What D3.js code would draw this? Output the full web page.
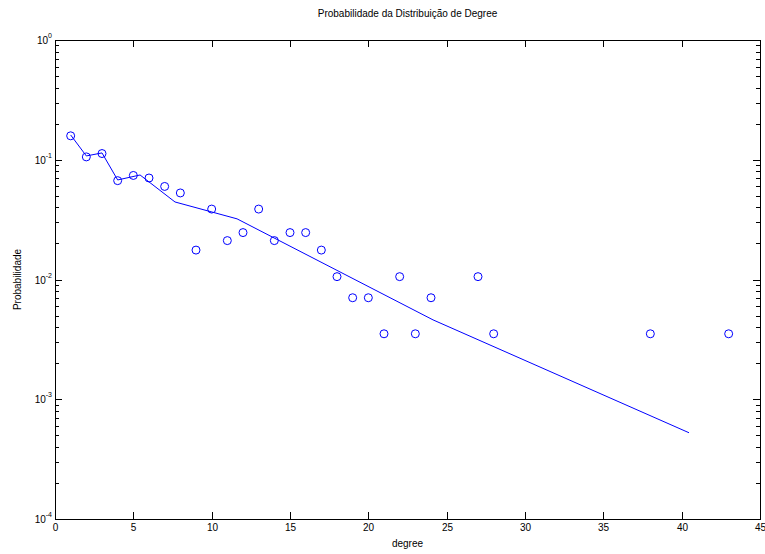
<!DOCTYPE html>
<html><head><meta charset="utf-8">
<script src="https://cdn.jsdelivr.net/npm/d3@7"></script>
<style>body{margin:0;background:#fff}svg{display:block}text{font-family:"Liberation Sans",Arial,sans-serif;fill:#000}</style>
</head><body><svg id="c" width="765" height="554"></svg>
<script>
const degrees = [1,2,3,4,5,6,7,8,9,10,11,12,13,14,15,16,17,18,19,20,21,22,23,24,27,28,38,43];
const counts  = [45,30,32,19,21,20,17,15,5,11,6,7,11,6,7,7,5,3,2,2,1,3,1,2,3,1,1,1];
const total = 284;
const probs = counts.map(c => c/total);
const fitX = [1,2,3,4,5.43,7.66,11.62,24.13,40.47];
const fitY = [0.161,0.1076,0.114,0.0678,0.0746,0.0444,0.0321,0.0046,0.000525];
const xTicks = [0,5,10,15,20,25,30,35,40,45];
const yExps = [0,-1,-2,-3,-4];

const svg = d3.select("#c");
const L=55,T=40,R=760,B=519;
const x = d3.scaleLinear().domain([0,45]).range([L,R]);
const y = d3.scaleLog().domain([1e-4,1]).range([B,T]);

svg.append("rect").attr("x",L+0.5).attr("y",T+0.5).attr("width",R-L).attr("height",B-T)
  .attr("fill","none").attr("stroke","#000").attr("stroke-width",1);

const g = svg.append("g").attr("stroke","#000").attr("stroke-width",1);
xTicks.forEach(v=>{
  const px=Math.round(x(v))+0.5;
  g.append("line").attr("x1",px).attr("x2",px).attr("y1",B).attr("y2",B-7);
  g.append("line").attr("x1",px).attr("x2",px).attr("y1",T).attr("y2",T+7);
  svg.append("text").attr("x",px).attr("y",B+12).attr("text-anchor","middle").attr("font-size",10).text(v);
});
yExps.forEach(e=>{
  const py=Math.round(y(Math.pow(10,e)))+0.5;
  g.append("line").attr("x1",L).attr("x2",L+7).attr("y1",py).attr("y2",py);
  g.append("line").attr("x1",R).attr("x2",R-7).attr("y1",py).attr("y2",py);
  const t=svg.append("text").attr("x",52).attr("y",py+3).attr("text-anchor","end").attr("font-size",10);
  t.append("tspan").text("10");
  t.append("tspan").attr("dy",-6).attr("font-size",7).text(e);
  if(e>-4){
    for(let m=2;m<=9;m++){
      const pm=Math.round(y(m*Math.pow(10,e-1)))+0.5;
      g.append("line").attr("x1",L).attr("x2",L+4).attr("y1",pm).attr("y2",pm);
      g.append("line").attr("x1",R).attr("x2",R-4).attr("y1",pm).attr("y2",pm);
    }
  }
});

const line=d3.line().x(d=>x(d[0])).y(d=>y(d[1]));
svg.append("path").datum(fitX.map((v,i)=>[v,fitY[i]])).attr("d",line)
  .attr("fill","none").attr("stroke","#0000ff").attr("stroke-width",1);

svg.selectAll("circle.p").data(degrees.map((d,i)=>[d,probs[i]])).enter().append("circle")
  .attr("cx",d=>x(d[0])).attr("cy",d=>y(d[1])).attr("r",4)
  .attr("fill","none").attr("stroke","#0000ff").attr("stroke-width",1);

svg.append("text").attr("x",(L+R)/2).attr("y",17).attr("text-anchor","middle").attr("font-size",10)
  .text("Probabilidade da Distribuição de Degree");
svg.append("text").attr("x",(L+R)/2).attr("y",547).attr("text-anchor","middle").attr("font-size",10).text("degree");
svg.append("text").attr("transform",`translate(21,${(T+B)/2}) rotate(-90)`).attr("text-anchor","middle")
  .attr("font-size",10).text("Probabilidade");
</script></body></html>
